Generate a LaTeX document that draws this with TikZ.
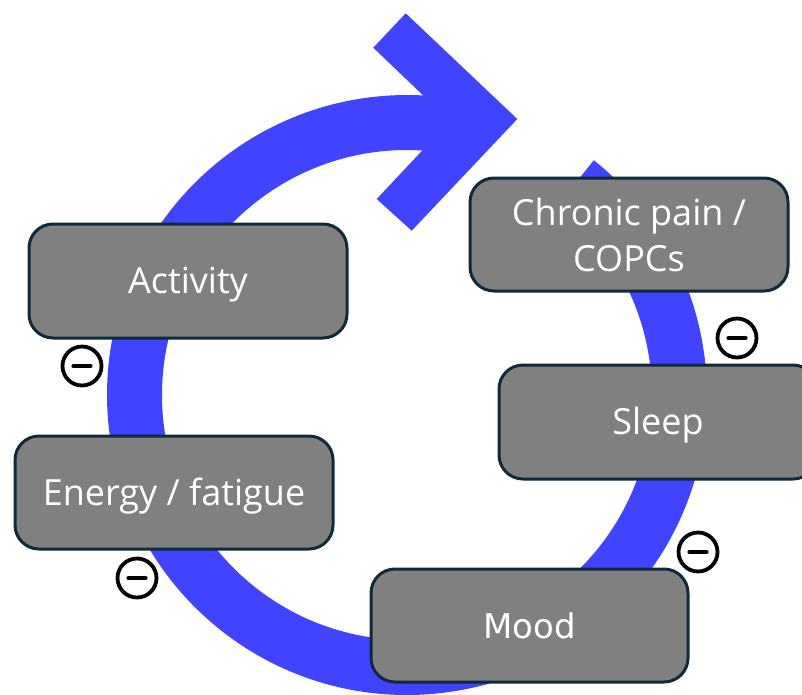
\documentclass[tikz,border=0pt]{standalone}
\usepackage{fontspec}
\setmainfont{Open Sans}
\newfontfamily\moodfont{DejaVu Sans}
\definecolor{ringblue}{HTML}{4043FF}
\definecolor{boxgray}{HTML}{808080}
\definecolor{boxline}{HTML}{0E2A3B}
\begin{document}
\begin{tikzpicture}[x=1pt,y=-1pt,
  box/.style={draw=boxline, fill=boxgray, line width=3pt, rounded corners=24pt,
    text=white, font=\fontsize{36}{46}\selectfont, align=center, inner sep=0pt,
    minimum width=318pt, minimum height=114pt},
  oneline/.style={text height=25pt, text depth=-5pt},
  minuscirc/.style={circle, draw=black, line width=3.8pt, minimum size=39pt, inner sep=0pt},
  minusbar/.style={line width=4.2pt, line cap=round}]
\useasboundingbox (0,0) rectangle (802,694);
\clip (0,0) rectangle (802,694);
% ring with arrow head
\begin{scope}[shift={(407,395)}]
\fill[ringblue] (-51.5:300) arc[start angle=-51.5, end angle=273.4, radius=300]
  -- (15.7,-300) -- (-33.7,-347.3) -- (-1.3,-381.7) -- (110.3,-276)
  -- (4.7,-164.3) -- (-30.3,-196) -- (15.7,-245)
  -- (273.4:245) arc[start angle=273.4, end angle=-51.5, radius=245] -- cycle;
\end{scope}
% boxes
\node[box, oneline] (act) at (188,281) {Activity};
\node[box, oneline, minimum height=113pt] (energy) at (174,492.5) {Energy / fatigue};
\node[box, minimum height=113pt] (pain) at (629,234.5) {Chronic pain /\\COPCs};
\node[box, oneline] (sleep) at (658,422) {Sleep};
\node[box, minimum width=317pt, minimum height=113pt, font=\moodfont\fontsize{34}{40}\selectfont] (mood) at (529.5,625.5) {Mood};
% minus signs
\foreach \n/\p in {m1/{(82,366)}, m2/{(137,578)}, m3/{(737,338)}, m4/{(698,552)}}{
  \node[minuscirc] (\n) at \p {};
  \draw[minusbar] ([xshift=-8.5pt]\n.center) -- ([xshift=8.5pt]\n.center);
}
\end{tikzpicture}
\end{document}
